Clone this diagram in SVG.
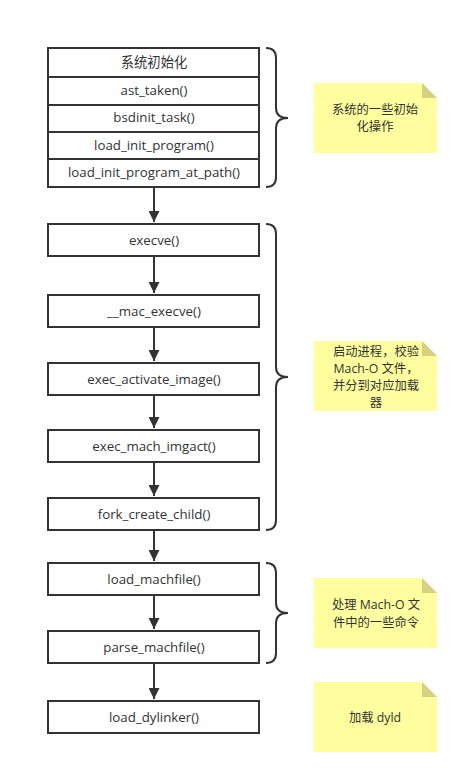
<svg xmlns="http://www.w3.org/2000/svg" width="469" height="783" viewBox="0 0 469 783">
<style>
.box{fill:#fff;stroke:#333;stroke-width:2}
.t{font-family:"Open Sans","Noto Sans CJK SC",sans-serif;font-size:13.3px;fill:#333;text-anchor:middle}
.n{font-family:"Open Sans","Noto Sans CJK SC",sans-serif;font-size:12.3px;fill:#333;text-anchor:middle}
.note{fill:#ffff9f}
.fold{fill:#d6d07f}
.br{fill:none;stroke:#333;stroke-width:2}
.c{stroke:#333;stroke-width:2;fill:none}
</style>
<defs>
<marker id="ah" viewBox="0 0 10 10" refX="10" refY="5" markerWidth="5.5" markerHeight="5.5" orient="auto" markerUnits="strokeWidth">
<path d="M0,0 L10,5 L0,10 Z" fill="#333"/>
</marker>
</defs>
<rect width="469" height="783" fill="#fff"/>
<g id="connectors">
<line class="c" x1="154" y1="187" x2="154" y2="222" marker-end="url(#ah)"/>
<line class="c" x1="154" y1="256" x2="154" y2="293" marker-end="url(#ah)"/>
<line class="c" x1="154" y1="327" x2="154" y2="361" marker-end="url(#ah)"/>
<line class="c" x1="154" y1="395" x2="154" y2="428" marker-end="url(#ah)"/>
<line class="c" x1="154" y1="462" x2="154" y2="496" marker-end="url(#ah)"/>
<line class="c" x1="154" y1="530" x2="154" y2="561" marker-end="url(#ah)"/>
<line class="c" x1="154" y1="595" x2="154" y2="629" marker-end="url(#ah)"/>
<line class="c" x1="154" y1="663" x2="154" y2="699" marker-end="url(#ah)"/>
</g>
<g id="init-stack">
<rect class="box" x="48" y="48" width="211" height="139"/>
<line class="c" x1="48" y1="77" x2="259" y2="77"/>
<line class="c" x1="48" y1="105" x2="259" y2="105"/>
<line class="c" x1="48" y1="132" x2="259" y2="132"/>
<line class="c" x1="48" y1="159" x2="259" y2="159"/>
<text class="t" x="154" y="67">系统初始化</text>
<text class="t" x="154" y="95">ast_taken()</text>
<text class="t" x="154" y="122">bsdinit_task()</text>
<text class="t" x="154" y="150">load_init_program()</text>
<text class="t" x="154" y="177">load_init_program_at_path()</text>
</g>
<g id="execve"><rect class="box" x="48" y="224" width="211" height="32"/><text class="t" x="154" y="245">execve()</text></g>
<g id="mac_execve"><rect class="box" x="48" y="295" width="211" height="32"/><text class="t" x="154" y="316">__mac_execve()</text></g>
<g id="exec_activate_image"><rect class="box" x="48" y="363" width="211" height="32"/><text class="t" x="154" y="384">exec_activate_image()</text></g>
<g id="exec_mach_imgact"><rect class="box" x="48" y="430" width="211" height="32"/><text class="t" x="154" y="451">exec_mach_imgact()</text></g>
<g id="fork_create_child"><rect class="box" x="48" y="498" width="211" height="32"/><text class="t" x="154" y="519">fork_create_child()</text></g>
<g id="load_machfile"><rect class="box" x="48" y="563" width="211" height="32"/><text class="t" x="154" y="584">load_machfile()</text></g>
<g id="parse_machfile"><rect class="box" x="48" y="631" width="211" height="32"/><text class="t" x="154" y="652">parse_machfile()</text></g>
<g id="load_dylinker"><rect class="box" x="48" y="701" width="211" height="32"/><text class="t" x="154" y="722">load_dylinker()</text></g>
<g id="brace1"><path class="br" d="M266,48 Q276,48 276,58 L276,108 Q276,118 288,118 Q276,118 276,128 L276,177 Q276,187 266,187"/></g>
<g id="brace2"><path class="br" d="M266,224 Q276,224 276,234 L276,367 Q276,377 288,377 Q276,377 276,387 L276,520 Q276,530 266,530"/></g>
<g id="brace3"><path class="br" d="M266,563 Q276,563 276,573 L276,603 Q276,613 288,613 Q276,613 276,623 L276,653 Q276,663 266,663"/></g>
<g id="note1">
<path class="note" d="M314,83 L422,83 L437,98 L437,153 L314,153 Z"/><path class="fold" d="M422,83 L437,98 L422,98 Z"/>
<text class="n" x="375" y="114">系统的一些初始</text><text class="n" x="375" y="131">化操作</text>
</g>
<g id="note2">
<path class="note" d="M314,341 L422,341 L437,356 L437,411 L314,411 Z"/><path class="fold" d="M422,341 L437,356 L422,356 Z"/>
<text class="n" x="376" y="356">启动进程，校验</text><text class="n" x="376" y="373">Mach-O 文件，</text><text class="n" x="376" y="390">并分到对应加载</text><text class="n" x="376" y="407">器</text>
</g>
<g id="note3">
<path class="note" d="M314,578 L422,578 L437,593 L437,648 L314,648 Z"/><path class="fold" d="M422,578 L437,593 L422,593 Z"/>
<text class="n" x="376" y="609">处理 Mach-O 文</text><text class="n" x="376" y="627">件中的一些命令</text>
</g>
<g id="note4">
<path class="note" d="M314,682 L422,682 L437,697 L437,752 L314,752 Z"/><path class="fold" d="M422,682 L437,697 L422,697 Z"/>
<text class="n" x="375" y="722">加载 dyld</text>
</g>
</svg>
